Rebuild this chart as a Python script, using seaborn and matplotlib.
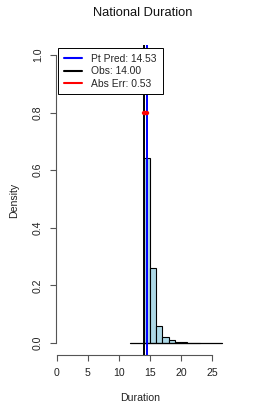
import numpy as np
import pandas as pd
import matplotlib
matplotlib.use("Agg")
import matplotlib.pyplot as plt
import seaborn as sns
from matplotlib.lines import Line2D

# ---- data ----
bin_edges = [14, 15, 16, 17, 18, 19, 20, 21, 22, 23]
densities = [0.643, 0.262, 0.058, 0.022, 0.011, 0.004, 0.002, 0.001, 0.001]
pt_pred = 14.53
obs = 14.00
abs_err = 0.53
err_marker_y = 0.8
baseline_range = [11.8, 26.6]
x_ticks = [0, 5, 10, 15, 20, 25]
y_ticks = [0.0, 0.2, 0.4, 0.6, 0.8, 1.0]
title = "National Duration"
xlabel = "Duration"
ylabel = "Density"

sns.set_style("white")
plt.rcParams['font.family'] = ['Liberation Sans', 'DejaVu Sans']

fig = plt.figure(figsize=(2.74, 4.11), dpi=100)
ax = fig.add_axes([56/274, 1-355/411, 168/274, 310/411])

centers = [(bin_edges[i] + bin_edges[i+1]) / 2 for i in range(len(densities))]
df = pd.DataFrame({"x": centers, "w": densities})
sns.histplot(data=df, x="x", weights="w", bins=bin_edges, stat="count",
             color="#ADD8E6", edgecolor="black", linewidth=0.8, alpha=1, ax=ax)

ax.plot(baseline_range, [0, 0], color="black", lw=0.9, zorder=3)
ax.axvline(obs, color="black", lw=1.4, zorder=4)
ax.axvline(pt_pred, color="blue", lw=1.4, zorder=4)
ax.plot([obs, pt_pred], [err_marker_y, err_marker_y], color="red", lw=3.2,
        solid_capstyle="round", zorder=5)

ax.set_xlim(-0.16, 26.94)
ax.set_ylim(-0.0417, 1.035)
for s in ["top", "right"]:
    ax.spines[s].set_visible(False)
ax.spines["left"].set_bounds(0, 1)
ax.spines["bottom"].set_bounds(0, 25)
for s in ["left", "bottom"]:
    ax.spines[s].set_color("#555555")
    ax.spines[s].set_linewidth(0.8)
ax.set_xticks(x_ticks)
ax.set_xticklabels([str(v) for v in x_ticks])
ax.set_yticks(y_ticks)
ax.set_yticklabels([f"{v:.1f}" for v in y_ticks], rotation=90, va="center")
ax.tick_params(axis="both", direction="out", length=4.3, width=0.8,
               color="#555555", labelsize=7.6, labelcolor="#222222",
               bottom=True, left=True)
ax.tick_params(axis="y", pad=5)
ax.tick_params(axis="x", pad=5)
ax.set_xlabel("")
ax.set_ylabel("")

fig.text(140/274, 1-398/411, xlabel, ha="center", va="center", fontsize=7.6, color="#222222")
fig.text(14/274, 1-200/411, ylabel, ha="center", va="center", rotation=90, fontsize=7.6, color="#222222")
fig.text(143/274, 1-13/411, title, ha="center", va="center", fontsize=9.3, color="#111111")

handles = [Line2D([0], [0], color="blue", lw=1.5),
           Line2D([0], [0], color="black", lw=1.5),
           Line2D([0], [0], color="red", lw=1.5)]
labels = [f"Pt Pred: {pt_pred:.2f}", f"Obs: {obs:.2f}", f"Abs Err: {abs_err:.2f}"]
leg = ax.legend(handles, labels, loc="upper left",
                bbox_to_anchor=(2/168, 1-3/310), fontsize=7.4,
                frameon=True, fancybox=False, framealpha=1, edgecolor="black",
                handlelength=1.8, handletextpad=0.9, labelspacing=0.25,
                borderpad=0.55, borderaxespad=0)
leg.get_frame().set_linewidth(0.7)
leg.set_zorder(10)

fig.savefig("out.png", dpi=100)
